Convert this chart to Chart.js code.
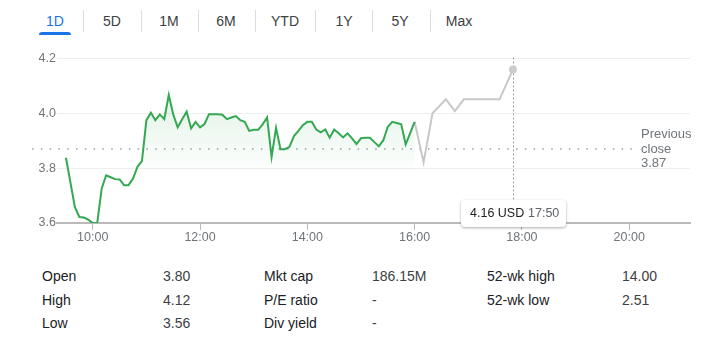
<!DOCTYPE html>
<html>
<head>
<meta charset="utf-8">
<script src="https://cdn.jsdelivr.net/npm/chart.js@4.4.1/dist/chart.umd.min.js"></script>
<style>
  body { margin: 0; width: 716px; height: 340px; background: #fff; font-family: Arial, "Liberation Sans", sans-serif; position: relative; overflow: hidden; }
  .tab { position: absolute; top: 13px; line-height: 17px; font-size: 14px; color: #3c4043; transform: translateX(-50%); white-space: nowrap; }
  .tab.active { color: #1a73e8; }
  .sep { position: absolute; top: 10px; width: 1px; height: 22px; background: #dadce0; }
  .underline { position: absolute; left: 39px; top: 32px; width: 32px; height: 3px; background: #1a73e8; border-radius: 3px 3px 0 0; }
  #wrap { position: absolute; left: 0; top: 50px; width: 716px; height: 200px; }
  .prev { position: absolute; left: 641px; top: 127px; font-size: 13px; line-height: 14.5px; color: #70757a; }
  .tip { position: absolute; left: 461px; top: 200px; width: 105px; height: 27px; background: #fff; border-radius: 4px;
         box-shadow: 0 1px 3px rgba(60,64,67,0.3), 0 1px 2px rgba(60,64,67,0.15); font-size: 12.5px; line-height: 27px; white-space: nowrap; }
  .tip .p { position: absolute; left: 9px; color: #202124; }
  .tip .t { position: absolute; left: 67px; color: #5f6368; }
  .cell { position: absolute; font-size: 14px; line-height: 16px; white-space: nowrap; }
  .lbl { color: #202124; }
  .val { color: #3c4043; }
</style>
</head>
<body>
<div id="tabs"></div>
<div id="wrap"><canvas id="chart" width="716" height="200"></canvas></div>
<div class="prev" id="prev"></div>
<div class="tip" id="tip"></div>
<div id="stats"></div>
<script>
// range tabs
const tabs = ['1D', '5D', '1M', '6M', 'YTD', '1Y', '5Y', 'Max'];

// regular session: 9:30 to 16:00, every 5 minutes
const sessionStart = 9 * 60 + 30;
const sessionStep = 5;
const sessionValues = [
  3.838, 3.748, 3.658, 3.622, 3.620, 3.612, 3.600, 3.600, 3.726, 3.774,
  3.767, 3.760, 3.759, 3.738, 3.738, 3.762, 3.805, 3.826, 3.975, 4.002,
  3.975, 3.996, 3.979, 4.067, 3.996, 3.949, 3.978, 4.006, 3.945, 3.969,
  3.949, 3.961, 3.997, 3.997, 3.997, 3.995, 3.979, 3.985, 3.990, 3.975,
  3.969, 3.936, 3.940, 3.940, 3.960, 3.985, 3.841, 3.947, 3.869, 3.869,
  3.878, 3.917, 3.936, 3.957, 3.969, 3.969, 3.941, 3.931, 3.941, 3.911,
  3.941, 3.927, 3.912, 3.927, 3.909, 3.888, 3.909, 3.911, 3.911, 3.895,
  3.880, 3.902, 3.951, 3.969, 3.965, 3.960, 3.887, 3.928, 3.969
];

// after hours (minutes since midnight)
const afterTimes = [960, 970, 980, 995, 1005, 1015, 1055, 1070];
const afterValues = [3.969, 3.821, 4.000, 4.051, 4.008, 4.051, 4.051, 4.160];

const prevClose = 3.87;
const yTicks = [3.6, 3.8, 4.0, 4.2];
const xTicks = [600, 720, 840, 960, 1080, 1200];

const stats = [
  ['Open', '3.80', 'Mkt cap', '186.15M', '52-wk high', '14.00'],
  ['High', '4.12', 'P/E ratio', '-', '52-wk low', '2.51'],
  ['Low', '3.56', 'Div yield', '-', '', '']
];

function hhmm(m) {
  return Math.floor(m / 60) + ':' + String(m % 60).padStart(2, '0');
}

// tabs
const tabX = [55, 112, 169, 226, 285, 344, 400, 459];
const sepX = [83, 141, 198, 255, 315, 372, 430];
let th = '';
tabs.forEach((t, i) => {
  th += '<span class="tab' + (i === 0 ? ' active' : '') + '" style="left:' + tabX[i] + 'px">' + t + '</span>';
});
sepX.forEach(x => { th += '<div class="sep" style="left:' + x + 'px"></div>'; });
th += '<div class="underline"></div>';
document.getElementById('tabs').innerHTML = th;

document.getElementById('prev').innerHTML = 'Previous<br>close<br>' + prevClose.toFixed(2);

const lastT = afterTimes[afterTimes.length - 1];
const lastV = afterValues[afterValues.length - 1];
document.getElementById('tip').innerHTML =
  '<span class="p">' + lastV.toFixed(2) + ' USD</span><span class="t">' + hhmm(lastT) + '</span>';

// stats table
const colX = [42, 163, 264, 372, 487, 622];
const rowY = [268, 292, 315];
let sh = '';
stats.forEach((row, r) => {
  row.forEach((txt, c) => {
    sh += '<div class="cell ' + (c % 2 === 0 ? 'lbl' : 'val') + '" style="left:' + colX[c] + 'px;top:' + rowY[r] + 'px">' + txt + '</div>';
  });
});
document.getElementById('stats').innerHTML = sh;

const sessionData = sessionValues.map((v, i) => ({ x: sessionStart + i * sessionStep, y: v }));
const afterData = afterTimes.map((t, i) => ({ x: t, y: afterValues[i] }));

const refLines = {
  id: 'refLines',
  beforeDatasetsDraw(chart) {
    const { ctx, chartArea, scales } = chart;
    const y = scales.y.getPixelForValue(prevClose);
    ctx.save();
    ctx.strokeStyle = '#9aa0a6';
    ctx.lineWidth = 1.5;
    ctx.setLineDash([1.5, 7.3]);
    ctx.beginPath();
    ctx.moveTo(32, y);
    ctx.lineTo(637, y);
    ctx.stroke();

    const x = scales.x.getPixelForValue(lastT);
    ctx.strokeStyle = '#9e9e9e';
    ctx.lineWidth = 1;
    ctx.setLineDash([2, 2]);
    ctx.beginPath();
    ctx.moveTo(Math.round(x) + 0.5, chartArea.top - 1);
    ctx.lineTo(Math.round(x) + 0.5, 150);
    ctx.stroke();
    ctx.restore();
  }
};

const ctx = document.getElementById('chart').getContext('2d');
new Chart(ctx, {
  type: 'line',
  data: {
    datasets: [
      {
        data: sessionData,
        borderColor: '#34a853',
        borderWidth: 2,
        pointRadius: 0,
        tension: 0,
        fill: 'start',
        backgroundColor: function(c) {
          const area = c.chart.chartArea;
          if (!area) return 'rgba(52,168,83,0.1)';
          const g = c.chart.ctx.createLinearGradient(0, area.top, 0, area.bottom - 45);
          g.addColorStop(0, 'rgba(52,168,83,0.2)');
          g.addColorStop(1, 'rgba(52,168,83,0)');
          return g;
        }
      },
      {
        data: afterData,
        borderColor: '#c8c8c8',
        borderWidth: 2,
        tension: 0,
        fill: false,
        pointRadius: c => c.dataIndex === afterData.length - 1 ? 4 : 0,
        pointBackgroundColor: '#cccccc',
        pointBorderWidth: 0,
        clip: false
      }
    ]
  },
  options: {
    responsive: false,
    animation: false,
    layout: { padding: { top: 8, right: 26, left: 0, bottom: 0 } },
    plugins: { legend: { display: false }, tooltip: { enabled: false } },
    scales: {
      x: {
        type: 'linear',
        min: 560,
        max: 1268,
        afterFit: s => { s.height = 27; },
        afterBuildTicks: s => { s.ticks = xTicks.map(v => ({ value: v })); },
        border: { color: '#bababa', width: 2 },
        grid: { drawOnChartArea: false, drawTicks: true, tickLength: 7, color: '#bababa' },
        ticks: {
          padding: 0,
          maxRotation: 0,
          color: '#70757a',
          font: { family: 'Arial, "Liberation Sans", sans-serif', size: 12.5 },
          callback: v => hhmm(v)
        }
      },
      y: {
        min: 3.6,
        max: 4.2,
        afterFit: s => { s.width = 57; },
        afterBuildTicks: s => { s.ticks = yTicks.map(v => ({ value: v })); },
        border: { display: false },
        grid: {
          drawTicks: false,
          color: c => c.tick && Math.abs(c.tick.value - 3.6) < 1e-6 ? 'rgba(0,0,0,0)' : '#eeeeee'
        },
        ticks: {
          padding: 1,
          color: '#70757a',
          font: { family: 'Arial, "Liberation Sans", sans-serif', size: 12.5 },
          callback: v => v.toFixed(1)
        }
      }
    }
  },
  plugins: [refLines]
});
</script>
</body>
</html>
